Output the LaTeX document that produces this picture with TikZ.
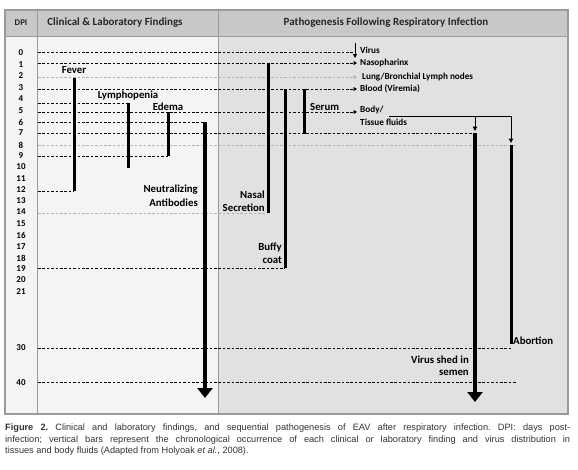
\documentclass[tikz,border=0pt]{standalone}
\usepackage{fontspec}
\setmainfont{Carlito}
\newfontfamily\capfont{Liberation Sans}
\usetikzlibrary{arrows.meta}
\definecolor{hdr}{HTML}{C8C8C8}
\definecolor{lightbg}{HTML}{F4F4F4}
\definecolor{darkbg}{HTML}{E1E1E1}
\definecolor{border}{HTML}{9A9A9A}
\definecolor{lightdash}{HTML}{B4B4B4}
\definecolor{captxt}{HTML}{333333}
\begin{document}
\begin{tikzpicture}[x=1pt,y=-1pt,
  hdrtxt/.style={font=\bfseries\fontsize{11}{12}\selectfont, inner sep=0pt, text=black!85},
  lab/.style={font=\bfseries\fontsize{10.8}{12}\selectfont, inner sep=0pt},
  smalllab/.style={font=\bfseries\fontsize{9.2}{10}\selectfont, inner sep=0pt, anchor=west},
  dpi/.style={font=\bfseries\fontsize{9}{10}\selectfont, inner sep=0pt},
  dl/.style={dash pattern=on 2.6pt off 1.8pt, line width=0.7pt, black},
  ll/.style={dash pattern=on 2.6pt off 1.8pt, line width=0.7pt, lightdash},
  tipd/.style={-{Triangle[width=4pt,length=3.5pt]}},
  bar/.style={line width=3pt, black},
  bigarrow/.style={line width=3.5pt, black, -{Triangle[width=15pt,length=10pt]}},
  thin/.style={line width=1pt, black},
]
\useasboundingbox (0,0) rectangle (578,469);
\fill[white] (0,0) rectangle (578,469);
% panels
\fill[hdr] (5,10) rectangle (568,36);
\fill[lightbg] (5,36) rectangle (218,414);
\fill[darkbg] (218,36) rectangle (568,414);
\draw[border, line width=1.2pt] (5,10) rectangle (568,414);
\draw[border, line width=1pt] (5,36) -- (568,36);
\draw[border, line width=1pt] (37,10) -- (37,414);
\draw[border, line width=1pt] (218,10) -- (218,414);
% headers
\node[hdrtxt, font=\bfseries\fontsize{8.8}{10}\selectfont] (hDPI) at (21,23) {DPI};
\node[hdrtxt] (hCLF) at (115,23) {Clinical \& Laboratory Findings};
\node[hdrtxt] (hPAT) at (386,23) {Pathogenesis Following Respiratory Infection};
% DPI labels
\foreach \d/\y in {0/53,1/65,2/76,3/88,4/99,5/111,6/122,7/133,8/145,9/156,10/167,11/179,12/190,13/201,14/212,15/224,16/235,17/247,18/258,19/269,20/280,21/292,30/348,40/383}
  \node[dpi] (d\d) at (21,\y) {\d};
% coordinates
\coordinate (s0) at (38,52);   \coordinate (virT) at (355,43); \coordinate (virB) at (355,58);
\coordinate (s1) at (38,63);   \coordinate (e1) at (357,63);
\coordinate (s2) at (38,77);   \coordinate (e2) at (357,77);
\coordinate (s3) at (38,89);   \coordinate (e3) at (357,89);
\coordinate (s4) at (38,103);
\coordinate (s5) at (38,112);  \coordinate (e5) at (357,112);
\coordinate (s6) at (38,122);
\coordinate (s7) at (38,133);
\coordinate (s8) at (38,145);  \coordinate (e8) at (516,145);
\coordinate (s9) at (38,156);
\coordinate (s12) at (38,191);
\coordinate (s14) at (38,213);
\coordinate (s19) at (38,268);
\coordinate (s30) at (38,348); \coordinate (e30) at (512,348);
\coordinate (s40) at (38,382); \coordinate (e40) at (516,382);
% bar ends
\coordinate (feverT) at (74,78);   \coordinate (feverB) at (74,191);
\coordinate (lymT) at (128,103);   \coordinate (lymB) at (128,168);
\coordinate (edT) at (168,112);    \coordinate (edB) at (168,156);
\coordinate (naT) at (205,122);    \coordinate (naB) at (205,398);
\coordinate (nsT) at (268,63);     \coordinate (nsB) at (268,213);
\coordinate (bcT) at (285,89);     \coordinate (bcB) at (285,268);
\coordinate (seT) at (304,89);     \coordinate (seB) at (304,134);
\coordinate (vsT) at (475,133);    \coordinate (vsB) at (475,402);
\coordinate (abT) at (511,145);    \coordinate (abB) at (511,344);
\coordinate (bfS) at (389,116);    \coordinate (bfM) at (475,116); \coordinate (bfE) at (511,116);
\coordinate (bfA1) at (475,131);   \coordinate (bfA2) at (511,143);
% dashed guide lines
\draw[dl] (s0) -- (virT |- s0);
\draw[dl, tipd] (s1) -- (e1);
\draw[ll, tipd] (s2) -- (e2);
\draw[dl, tipd] (s3) -- (e3);
\draw[dl] (s4) -- (lymT);
\draw[dl, tipd] (s5) -- (e5);
\draw[dl] (s6) -- (naT);
\draw[dl] (s7) -- (vsT);
\draw[ll] (s8) -- (e8);
\draw[dl] (s9) -- (edB);
\draw[dl] (s12) -- (feverB);
\draw[ll] (s14) -- (nsB);
\draw[dl] (s19) -- (bcB);
\draw[dl] (s30) -- (e30);
\draw[dl] (s40) -- (e40);
% virus arrow
\draw[thin, -{Triangle[width=4pt,length=4pt]}] (virT) -- (virB);
% body fluid branches
\draw[thin] (bfS) -- (bfE);
\draw[thin, -{Triangle[width=4.5pt,length=4.5pt]}] (bfM) -- (bfA1);
\draw[thin, -{Triangle[width=4.5pt,length=4.5pt]}] (bfE) -- (bfA2);
% bars
\draw[bar] (feverT) -- (feverB);
\draw[bar] (lymT) -- (lymB);
\draw[bar] (edT) -- (edB);
\draw[bigarrow] (naT) -- (naB);
\draw[bar] (nsT) -- (nsB);
\draw[bar] (bcT) -- (bcB);
\draw[bar] (seT) -- (seB);
\draw[bigarrow] (vsT) -- (vsB);
\draw[bar] (abT) -- (abB);
% right-side labels
\node[smalllab] (lVirus) at (360,50) {Virus};
\node[smalllab] (lNaso) at (360,63) {Nasopharinx};
\node[smalllab] (lLung) at (362,77) {Lung/Bronchial Lymph nodes};
\node[smalllab] (lBlood) at (360,89) {Blood (Viremia)};
\node[smalllab] (lBody) at (360,110) {Body/};
\node[smalllab] (lTissue) at (360,122) {Tissue fluids};
% bar labels
\node[lab] (lFever) at (74,70) {Fever};
\node[lab] (lLym) at (128,96) {Lymphopenia};
\node[lab] (lEdema) at (168,107) {Edema};
\node[lab, anchor=east] (lNeu1) at (198,190) {Neutralizing};
\node[lab, anchor=east] (lNeu2) at (198,203) {Antibodies};
\node[lab, anchor=east] (lNas1) at (265,195) {Nasal};
\node[lab, anchor=east] (lNas2) at (265,208) {Secretion};
\node[lab, anchor=east] (lBuf1) at (282,248) {Buffy};
\node[lab, anchor=east] (lBuf2) at (282,260) {coat};
\node[lab, anchor=west] (lSerum) at (310,107) {Serum};
\node[lab, anchor=west] (lAbort) at (513,341) {Abortion};
\node[lab, anchor=east] (lVs1) at (469,360) {Virus shed in};
\node[lab, anchor=east] (lVs2) at (469,373) {semen};
% caption
\node[anchor=north west, inner sep=0pt, text=captxt] (caption) at (5,424) {\parbox{565pt}{\capfont\fontsize{9.2}{11.5}\selectfont\frenchspacing
\textbf{Figure 2.} Clinical and laboratory findings, and sequential pathogenesis of EAV after respiratory infection. DPI: days post-\linebreak
infection; vertical bars represent the chronological occurrence of each clinical or laboratory finding and virus distribution in\linebreak
tissues and body fluids (Adapted from Holyoak \textit{et al.}, 2008).}};
\end{tikzpicture}
\end{document}
